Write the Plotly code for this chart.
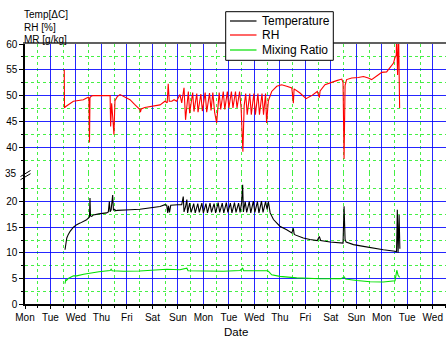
import plotly.graph_objects as go
from plotly.subplots import make_subplots

# ---------------- data (x = days since first Monday 00:00) ----------------
day_labels = ["Mon", "Tue", "Wed", "Thu", "Fri", "Sat", "Sun", "Mon", "Tue",
              "Wed", "Thu", "Fri", "Sat", "Sun", "Mon", "Tue", "Wed"]
day_ticks = list(range(len(day_labels)))

temp_x = [1.57, 1.60, 1.64, 1.70, 1.77, 1.90, 2.03, 2.16, 2.29, 2.40, 2.49, 2.53, 2.55, 2.57,
          2.62, 2.68, 2.90, 3.10, 3.20, 3.27, 3.31, 3.34, 3.38, 3.44, 3.47, 3.52, 3.56, 3.62,
          3.73, 4.12, 4.51, 4.90, 5.30, 5.49, 5.56, 5.60, 5.63, 5.67, 5.72, 6.00, 6.15, 6.21,
          6.24, 6.30, 6.35, 6.38, 6.46, 6.52, 6.62, 6.68, 6.78, 6.84, 6.94, 7.00, 7.10, 7.16,
          7.26, 7.32, 7.42, 7.48, 7.58, 7.64, 7.74, 7.80, 7.90, 7.96, 8.06, 8.12, 8.22, 8.28,
          8.38, 8.44, 8.50, 8.54, 8.57, 8.64, 8.70, 8.80, 8.86, 8.96, 9.02, 9.12, 9.18, 9.28,
          9.34, 9.44, 9.50, 9.55, 9.62, 9.75, 9.88, 10.00, 10.27, 10.47, 10.53, 10.56, 10.60,
          10.92, 11.18, 11.47, 11.55, 11.60, 11.97, 12.36, 12.48, 12.52, 12.56, 12.60, 12.89,
          13.28, 13.67, 14.06, 14.52, 14.58, 14.61, 14.64, 14.68, 14.71]
temp_y = [10.6, 12.0, 12.9, 13.6, 14.2, 15.0, 15.5, 15.8, 16.1, 16.4, 16.8, 17.0, 20.7, 17.2,
          17.1, 17.4, 17.6, 17.7, 17.8, 18.0, 20.0, 18.0, 18.4, 21.3, 18.3, 18.5, 18.2, 18.3,
          18.3, 18.4, 18.5, 18.75, 19.06, 19.4, 19.3, 17.8, 19.2, 17.9, 19.3, 19.4, 19.4, 21.0,
          18.0, 19.0, 20.4, 17.8, 19.7, 17.9, 19.6, 17.8, 19.6, 17.9, 19.7, 17.8, 19.6, 17.8,
          19.7, 17.9, 19.6, 17.8, 19.8, 17.9, 19.7, 17.8, 19.8, 17.9, 19.7, 17.8, 19.8, 17.9,
          19.7, 17.9, 19.8, 23.3, 18.0, 20.0, 17.9, 20.0, 17.8, 20.1, 17.9, 20.0, 17.8, 20.1,
          17.9, 20.0, 18.5, 20.0, 17.8, 16.5, 15.8, 15.2, 14.5, 13.9, 14.8, 13.7, 13.5,
          12.9, 12.6, 12.4, 13.2, 12.4, 12.1, 11.9, 11.9, 19.1, 12.6, 12.1, 11.6,
          11.25, 10.9, 10.6, 10.3, 10.2, 18.4, 10.0, 17.4, 10.8]

rh_x = [1.54, 1.55, 1.60, 1.77, 1.90, 2.03, 2.29, 2.40, 2.49, 2.51, 2.53, 2.55, 2.60, 2.68,
        3.00, 3.20, 3.34, 3.36, 3.40, 3.44, 3.49, 3.53, 3.62, 3.73, 3.90, 4.12, 4.30, 4.51,
        4.53, 4.56, 4.70, 4.90, 5.10, 5.30, 5.49, 5.58, 5.62, 5.66, 5.76, 5.85, 5.95, 6.08,
        6.15, 6.24, 6.30, 6.34, 6.41, 6.46, 6.58, 6.63, 6.74, 6.79, 6.90, 6.96, 7.07, 7.13,
        7.24, 7.30, 7.37, 7.44, 7.52, 7.62, 7.68, 7.78, 7.84, 7.94, 8.00, 8.10, 8.16, 8.26,
        8.32, 8.42, 8.48, 8.55, 8.60, 8.66, 8.72, 8.82, 8.88, 8.98, 9.04, 9.14, 9.20, 9.30,
        9.36, 9.44, 9.48, 9.55, 9.68, 9.88, 10.07, 10.27, 10.47, 10.53, 10.56, 10.79, 11.03,
        11.25, 11.47, 11.55, 11.58, 11.77, 11.97, 12.23, 12.43, 12.48, 12.52, 12.56, 12.62,
        12.82, 13.08, 13.28, 13.47, 13.60, 13.80, 14.00, 14.19, 14.31, 14.46, 14.52, 14.57,
        14.58, 14.62, 14.66, 14.70]
rh_y = [55.1, 47.6, 47.9, 48.5, 48.9, 49.0, 49.2, 49.5, 49.7, 49.5, 40.9, 49.6, 49.9, 50.0,
        50.0, 50.1, 50.0, 44.0, 48.5, 46.0, 42.4, 49.0, 49.8, 50.2, 49.8, 49.2, 48.3, 47.3,
        46.8, 47.4, 47.7, 47.9, 48.0, 48.2, 48.9, 48.6, 52.3, 48.9, 48.9, 49.2, 48.9, 50.2,
        48.6, 51.5, 45.3, 47.0, 50.8, 46.6, 50.6, 46.9, 50.4, 46.8, 50.3, 47.0, 50.6, 46.8,
        50.5, 47.1, 50.6, 46.8, 44.7, 50.6, 47.3, 50.8, 47.3, 50.8, 47.6, 50.8, 47.6, 50.8,
        47.6, 50.8, 47.6, 39.1, 48.0, 50.4, 46.3, 50.4, 46.3, 50.4, 46.3, 50.4, 46.3, 50.4,
        46.3, 50.4, 44.7, 49.0, 50.8, 51.8, 52.1, 51.8, 51.5, 48.5, 51.3, 50.5, 49.4,
        50.0, 50.8, 49.6, 50.9, 52.1, 52.5, 52.9, 53.2, 52.5, 37.7, 52.0, 53.1,
        53.4, 53.5, 53.7, 53.4, 53.1, 53.8, 54.5, 54.6, 55.3, 56.3, 57.4, 57.8,
        62.0, 54.0, 62.0, 47.6]

mr_x = [1.57, 1.60, 1.63, 1.70, 1.90, 2.03, 2.30, 2.55, 2.90, 3.34, 3.38, 3.42, 3.86, 4.51,
        5.17, 5.56, 6.08, 6.35, 6.40, 7.13, 7.78, 8.44, 8.54, 8.58, 9.00, 9.50, 9.55, 9.68,
        10.00, 10.66, 11.58, 12.40, 12.53, 12.58, 13.02, 13.54, 14.06, 14.52, 14.59, 14.64,
        14.70]
mr_y = [4.0, 4.8, 4.6, 5.0, 5.5, 5.5, 5.8, 6.05, 6.3, 6.55, 6.8, 6.5, 6.4, 6.45,
        6.7, 6.8, 6.7, 7.0, 6.5, 6.4, 6.4, 6.55, 7.0, 6.5, 6.55, 6.5, 6.4, 5.7,
        5.4, 5.1, 4.94, 4.95, 5.3, 4.9, 4.6, 4.35, 4.3, 4.55, 6.6, 5.6,
        5.2]

low_ticks = [0, 5, 10, 15, 20]
low_minor = [2.5, 7.5, 12.5, 17.5, 22.5]
up_ticks = [40, 45, 50, 55, 60]
up_minor = [37.5, 42.5, 47.5, 52.5, 57.5]
break_label = "35"

series_names = ["Temperature", "RH", "Mixing Ratio"]
series_colors = ["#000000", "#ff0000", "#00e000"]

# ---------------- layout geometry ----------------
W, H = 446, 340
ML, MR_, MT, MB = 25, 0, 44, 36
PW, PH = W - ML - MR_, H - MT - MB
SPLIT = 0.504  # fraction of plot height for lower (0-25.6) panel


def px(xp):
    return (xp - ML) / PW


def py(yp):
    return (H - MB - yp) / PH


FONT = "Liberation Sans, Arial, sans-serif"
BLUE = "rgba(0,0,255,0.85)"
GREEN = "rgb(70,240,70)"

fig = make_subplots(rows=2, cols=1, shared_xaxes=False, vertical_spacing=0,
                    row_heights=[1 - SPLIT, SPLIT])

fig.add_trace(go.Scatter(x=temp_x, y=temp_y, mode="lines", name=series_names[0],
                         line=dict(color=series_colors[0], width=1.1), showlegend=False),
              row=2, col=1)
fig.add_trace(go.Scatter(x=rh_x, y=rh_y, mode="lines", name=series_names[1],
                         line=dict(color=series_colors[1], width=1.1), showlegend=False),
              row=1, col=1)
fig.add_trace(go.Scatter(x=mr_x, y=mr_y, mode="lines", name=series_names[2],
                         line=dict(color=series_colors[2], width=1.1), showlegend=False),
              row=2, col=1)

xminor = [d + 0.5 for d in day_ticks]
xcommon = dict(range=[0, 16.52], tickmode="array", tickvals=day_ticks,
               showgrid=True, gridcolor=BLUE, gridwidth=1, zeroline=False,
               minor=dict(tickmode="array", tickvals=xminor, showgrid=True,
                          gridcolor=GREEN, griddash="dot", gridwidth=1,
                          ticks="outside", ticklen=2, tickcolor="black"))

# lower panel x axis (the real date axis)
fig.update_xaxes(row=2, col=1, ticktext=day_labels, showline=True, linecolor="black",
                 linewidth=1.5, ticks="outside", ticklen=3, tickcolor="black",
                 tickfont=dict(family=FONT, size=10, color="black"), **xcommon)
# upper panel x axis: only grid + top frame line
fig.update_xaxes(row=1, col=1, matches="x2", side="top", showticklabels=False,
                 showline=True, linecolor="#606060", linewidth=1.5, ticks="", **xcommon)
fig.update_xaxes(row=1, col=1, minor=dict(ticks=""))

ycommon = dict(showline=True, linecolor="black", linewidth=1.5, ticks="outside",
               ticklen=4, tickcolor="black", zeroline=False, showgrid=True,
               gridcolor=BLUE, gridwidth=1,
               tickfont=dict(family=FONT, size=10, color="black"))
fig.update_yaxes(row=2, col=1, range=[0, 25.6], tickmode="array", tickvals=low_ticks,
                 minor=dict(tickmode="array", tickvals=low_minor, showgrid=True,
                            gridcolor=GREEN, griddash="dot", ticks="outside",
                            ticklen=2, tickcolor="black"), **ycommon)
fig.update_yaxes(row=1, col=1, range=[35, 60], tickmode="array", tickvals=up_ticks,
                 minor=dict(tickmode="array", tickvals=up_minor, showgrid=True,
                            gridcolor=GREEN, griddash="dot", ticks="outside",
                            ticklen=2, tickcolor="black"), **ycommon)

shapes = []
annotations = []

# axis break marks "//" and its label
for dy in (0, 3.2):
    shapes.append(dict(type="line", xref="paper", yref="paper",
                       x0=px(20.5), y0=py(176.5 + dy), x1=px(30.5), y1=py(170.5 + dy),
                       line=dict(color="black", width=1)))
annotations.append(dict(text=break_label, xref="paper", yref="paper", x=px(18.5),
                        y=py(173.3), xanchor="right", yanchor="middle", showarrow=False,
                        font=dict(family=FONT, size=10, color="black")))

# y axis title (three lines)
for txt, yc in zip(["Temp[ΔC]", "RH [%]", "MR [g/kg]"], [15.0, 27.2, 39.3]):
    annotations.append(dict(text=txt, xref="paper", yref="paper", x=px(22), y=py(yc),
                            xanchor="left", yanchor="middle", showarrow=False,
                            font=dict(family=FONT, size=10, color="black")))

# x axis title
annotations.append(dict(text="Date", xref="paper", yref="paper", x=px(235.5), y=py(332),
                        xanchor="center", yanchor="middle", showarrow=False,
                        font=dict(family=FONT, size=11.5, color="black")))

# legend box
shapes.append(dict(type="rect", xref="paper", yref="paper", x0=px(225.7), y0=py(60.3),
                   x1=px(333.3), y1=py(11.7), line=dict(color="black", width=1),
                   fillcolor="white", layer="above"))
for name, col, yc in zip(series_names, series_colors, [21.0, 35.0, 50.0]):
    shapes.append(dict(type="line", xref="paper", yref="paper", x0=px(230), x1=px(256.5),
                       y0=py(yc), y1=py(yc), line=dict(color=col, width=1.2), layer="above"))
    annotations.append(dict(text=name, xref="paper", yref="paper", x=px(259.5), y=py(yc),
                            xanchor="left", yanchor="middle", showarrow=False,
                            font=dict(family=FONT, size=12, color="black")))

fig.update_layout(width=W, height=H, margin=dict(l=ML, r=MR_, t=MT, b=MB),
                  paper_bgcolor="white", plot_bgcolor="white", showlegend=False,
                  shapes=shapes, annotations=annotations,
                  font=dict(family=FONT, size=10, color="black"))

fig.write_html("out.html")
